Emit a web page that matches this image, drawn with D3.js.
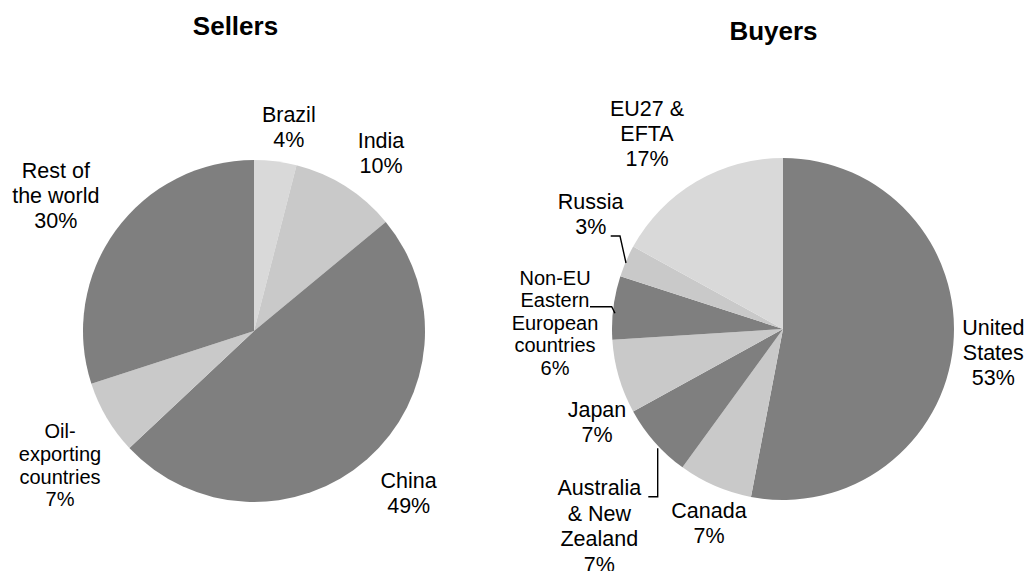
<!DOCTYPE html>
<html><head><meta charset="utf-8">
<script src="https://cdn.jsdelivr.net/npm/d3@7"></script>
<style>
html,body{margin:0;padding:0;background:#fff;}
svg{display:block;font-family:"Liberation Sans",Arial,sans-serif;}
</style></head>
<body><svg id="chart" width="1028" height="571"></svg>
<script>
// ---- data ----
const sellerNames = ["Brazil", "India", "China", "Oil-\nexporting\ncountries", "Rest of\nthe world"];
const sellerValues = [4, 10, 49, 7, 30];
const sellerShades = ["lightest", "light", "dark", "light", "dark"];

const buyerNames = ["United\nStates", "Canada", "Australia\n& New\nZealand", "Japan", "Non-EU\nEastern\nEuropean\ncountries", "Russia", "EU27 &\nEFTA"];
const buyerValues = [53, 7, 7, 7, 6, 3, 17];
const buyerShades = ["dark", "light", "dark", "light", "dark", "light", "lightest"];

const titles = ["Sellers", "Buyers"];

// ---- layout / style ----
const shadeColor = {dark: "#7f7f7f", light: "#c9c9c9", lightest: "#d9d9d9"};
const R = 171;
const pies = [
  {cx: 254, cy: 331, title: titles[0], tx: 235.5, ty: 35,
   names: sellerNames, values: sellerValues, shades: sellerShades,
   labels: [
     {dx: 34.8, dy: -209.3},
     {dx: 127, dy: -182.7},
     {dx: 154.7, dy: 157.3},
     {dx: -194, dy: 107.3, lh: 22.6, fs: 20},
     {dx: -198.2, dy: -152.7}
   ]},
  {cx: 783, cy: 329, title: titles[1], tx: 773.5, ty: 40,
   names: buyerNames, values: buyerValues, shades: buyerShades,
   labels: [
     {dx: 210.3, dy: 6},
     {dx: -74, dy: 189.3},
     {dx: -183.7, dy: 166, lh: 25.5, leader: [[-134.7, 167.7], [-125.3, 167.7], [-125.3, 119.3]]},
     {dx: -186, dy: 87.7},
     {dx: -228, dy: -44, lh: 22.4, fs: 20, leader: [[-193, -22.3], [-171.3, -22.3], [-168, -15.7]]},
     {dx: -192.3, dy: -119.7, leader: [[-172.3, -93], [-163, -93], [-157, -66]]},
     {dx: -136, dy: -213}
   ]}
];

const svg = d3.select("#chart");
const pieGen = d3.pie().sort(null).value(d => d).startAngle(0).endAngle(2 * Math.PI);
const arcGen = d3.arc().innerRadius(0).outerRadius(R);

pies.forEach(p => {
  const g = svg.append("g").attr("transform", `translate(${p.cx},${p.cy})`);
  const arcs = pieGen(p.values);
  g.selectAll("path.slice").data(arcs).join("path")
    .attr("class", "slice")
    .attr("d", arcGen)
    .attr("fill", (d, i) => shadeColor[p.shades[i]]);

  svg.append("text")
    .attr("x", p.tx).attr("y", p.ty)
    .attr("text-anchor", "middle")
    .attr("font-weight", "bold")
    .attr("font-size", 26)
    .attr("fill", "#000")
    .text(p.title);

  arcs.forEach((a, i) => {
    const L = p.labels[i];
    const lines = (p.names[i] + "\n" + p.values[i] + "%").split("\n");
    const t = g.append("text")
      .attr("text-anchor", "middle")
      .attr("font-size", L.fs || 21.5)
      .attr("fill", "#000");
    lines.forEach((ln, k) => {
      t.append("tspan").attr("x", L.dx).attr("y", L.dy + k * (L.lh || 25)).text(ln);
    });
    if (L.leader) {
      g.append("path")
        .attr("d", d3.line()(L.leader))
        .attr("fill", "none")
        .attr("stroke", "#000")
        .attr("stroke-width", 1.4);
    }
  });
});
</script>
</body></html>
